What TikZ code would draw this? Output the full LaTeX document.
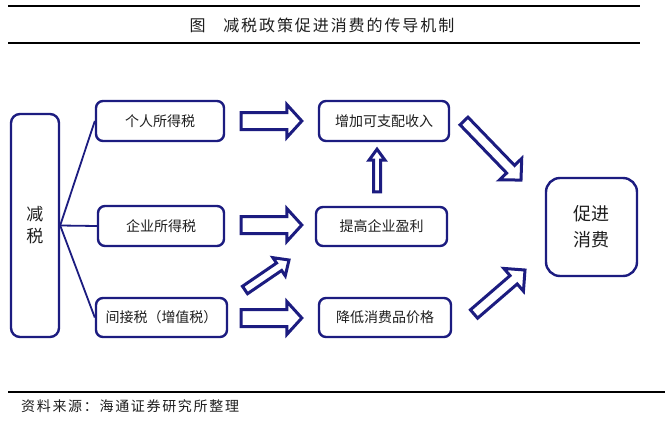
\documentclass[tikz,border=0pt]{standalone}
\usepackage{fontspec}
\setmainfont{Noto Sans CJK SC}
\newfontfamily\cjkspaced[LetterSpace=12]{Noto Sans CJK SC}
\usetikzlibrary{calc}
\definecolor{navy}{RGB}{28,28,128}
\definecolor{ink}{RGB}{30,30,30}
\tikzset{
  box/.style={draw=navy, line width=2.4pt, rounded corners=7pt, fill=white,
    font=\fontsize{14}{16}\selectfont, text=ink, inner sep=0pt, align=center},
  link/.style={draw=navy, line width=1.8pt},
  barrow/.style={draw=navy, line width=3pt, fill=white, line join=miter},
  hrule/.style={draw=black, line width=1.4pt}
}
% hollow block arrow: #1 tail, #2 tip, #3 shaft half-width, #4 head half-width, #5 head length
\newcommand\blockarrow[5]{%
  \coordinate (baN) at ($(#2)!#5!(#1)$);
  \draw[barrow] ($(#1)!#3!90:(#2)$) -- ($(baN)!#3!-90:(#1)$) -- ($(baN)!#4!-90:(#1)$)
    -- (#2) -- ($(baN)!#4!90:(#1)$) -- ($(baN)!#3!90:(#1)$) -- ($(#1)!#3!-90:(#2)$) -- cycle;}
\begin{document}
\begin{tikzpicture}[x=1pt,y=-1pt]
\useasboundingbox (0,0) rectangle (665,424);
\fill[white] (0,0) rectangle (665,424);

% rules and captions
\coordinate (r1a) at (8,6);   \coordinate (r1b) at (640,6);
\coordinate (r2a) at (8,43);  \coordinate (r2b) at (640,43);
\coordinate (r3a) at (8,392); \coordinate (r3b) at (665,392);
\draw[hrule] (r1a) -- (r1b);
\draw[hrule] (r2a) -- (r2b);
\draw[hrule, line width=1.2pt] (r3a) -- (r3b);
\node[text=ink, font=\cjkspaced\fontsize{16}{18}\selectfont, inner sep=0pt] (title) at (322,25)
  {图\hspace{1.1em}减税政策促进消费的传导机制};
\node[anchor=west, text=ink, font=\cjkspaced\fontsize{14}{16}\selectfont, inner sep=0pt] (source) at (21,406)
  {资料来源：海通证券研究所整理};

% boxes
\node[box, minimum width=48pt, minimum height=223pt, rounded corners=9pt,
      font=\fontsize{17}{22}\selectfont] (jian) at (35,225.5) {减\\税};
\node[box, minimum width=128pt, minimum height=40pt] (geren) at (160,121) {个人所得税};
\node[box, minimum width=126pt, minimum height=40pt] (qiye) at (161,226) {企业所得税};
\node[box, minimum width=131pt, minimum height=39pt] (jianjie) at (161.5,317.5) {间接税（增值税）};
\node[box, minimum width=130pt, minimum height=40pt] (zengjia) at (384,121) {增加可支配收入};
\node[box, minimum width=131pt, minimum height=39pt] (tigao) at (381.5,226.5) {提高企业盈利};
\node[box, minimum width=132pt, minimum height=39pt] (jiangdi) at (385,317.5) {降低消费品价格};
\node[box, minimum width=91pt, minimum height=98pt, rounded corners=14pt,
      font=\fontsize{18}{26}\selectfont] (cujin) at (591.5,227) {促进\\消费};

% branching lines
\draw[link] (jian.east) -- (geren.west);
\draw[link] (jian.east) -- (qiye.west);
\draw[link] (jian.east) -- (jianjie.west);

% block arrows
\coordinate (a1s) at ($(geren.east)+(16,0)$);   \coordinate (a1e) at ($(zengjia.west)+(-16,0)$);
\coordinate (a2s) at ($(qiye.east)+(16,-1)$);   \coordinate (a2e) at ($(tigao.west)+(-13,-1.5)$);
\coordinate (a3s) at ($(jianjie.east)+(13,0.5)$); \coordinate (a3e) at ($(jiangdi.west)+(-16,0.5)$);
\coordinate (a4s) at (245,290);  \coordinate (a4e) at (289,260);
\coordinate (a5s) at ($(tigao.north)+(-4.5,-14)$); \coordinate (a5e) at ($(zengjia.south)+(-7,7)$);
\coordinate (a6s) at (464,121);  \coordinate (a6e) at (521,180);
\coordinate (a7s) at (474,314);  \coordinate (a7e) at (525,270);
\blockarrow{a1s}{a1e}{8.5pt}{16.5pt}{15pt}
\blockarrow{a2s}{a2e}{8.5pt}{16.5pt}{15pt}
\blockarrow{a3s}{a3e}{8.5pt}{16.5pt}{15pt}
\blockarrow{a4s}{a4e}{4.5pt}{11pt}{12pt}
\blockarrow{a5s}{a5e}{3.5pt}{8pt}{11pt}
\blockarrow{a6s}{a6e}{5.5pt}{15.5pt}{15pt}
\blockarrow{a7s}{a7e}{5.5pt}{15pt}{15pt}
\end{tikzpicture}
\end{document}
